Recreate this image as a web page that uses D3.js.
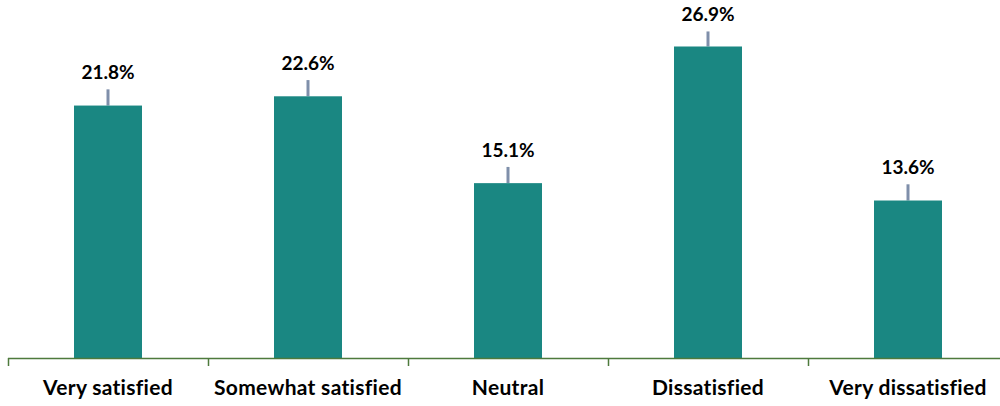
<!DOCTYPE html>
<html><head><meta charset="utf-8">
<script src="https://cdn.jsdelivr.net/npm/d3@7"></script>
<style>body{margin:0;background:#fff}svg{display:block}</style>
</head><body>
<svg id="c" width="1000" height="406"></svg>
<script>
const categories = ["Very satisfied","Somewhat satisfied","Neutral","Dissatisfied","Very dissatisfied"];
const values = [21.8, 22.6, 15.1, 26.9, 13.6];
const errors = [1.4, 1.4, 1.4, 1.3, 1.4];
const labels = ["21.8%","22.6%","15.1%","26.9%","13.6%"];

const svg = d3.select("#c");
const x = d3.scaleBand().domain(categories).range([8, 1008]).paddingInner(0.66).paddingOuter(0.33);
const y = d3.scaleLinear().domain([0, 30]).range([358, 358 - 30*11.58]);
const font = "Lato, 'Open Sans', sans-serif";

// error bars (behind)
svg.append("g").selectAll("line").data(values).join("line")
  .attr("x1", (d,i)=>x(categories[i])+x.bandwidth()/2)
  .attr("x2", (d,i)=>x(categories[i])+x.bandwidth()/2)
  .attr("y1", (d,i)=>y(d+errors[i]))
  .attr("y2", (d,i)=>y(d))
  .attr("stroke","#7F8FAA").attr("stroke-width",3);

svg.append("g").selectAll("rect").data(values).join("rect")
  .attr("x",(d,i)=>x(categories[i]))
  .attr("width",x.bandwidth())
  .attr("y",d=>y(d))
  .attr("height",d=>y(0)-y(d))
  .attr("fill","#1A8782");

// axis
const band = d3.scaleLinear().domain([0,5]).range([8,1008]);
const ax = svg.append("g");
ax.append("line").attr("x1",8).attr("x2",1000).attr("y1",358.5).attr("y2",358.5)
  .attr("stroke","#4E7A3C").attr("stroke-width",1.5);
ax.selectAll("line.t").data(d3.range(0,6)).join("line").attr("class","t")
  .attr("x1",d=>Math.round(band(d))+0.5).attr("x2",d=>Math.round(band(d))+0.5)
  .attr("y1",358).attr("y2",366).attr("stroke","#4E7A3C").attr("stroke-width",1.5);

svg.append("g").selectAll("text").data(categories).join("text")
  .attr("x",d=>x(d)+x.bandwidth()/2).attr("y",395)
  .attr("text-anchor","middle").attr("font-family",font).attr("font-weight","bold")
  .attr("font-size",21).attr("letter-spacing","0.3px").attr("fill","#000").text(d=>d);

svg.append("g").selectAll("text").data(values).join("text")
  .attr("x",(d,i)=>x(categories[i])+x.bandwidth()/2)
  .attr("y",(d,i)=>y(d+errors[i]) - 10)
  .attr("text-anchor","middle").attr("font-family",font).attr("font-weight","bold")
  .attr("font-size",19).attr("fill","#000").text((d,i)=>labels[i]);
</script>
</body></html>
